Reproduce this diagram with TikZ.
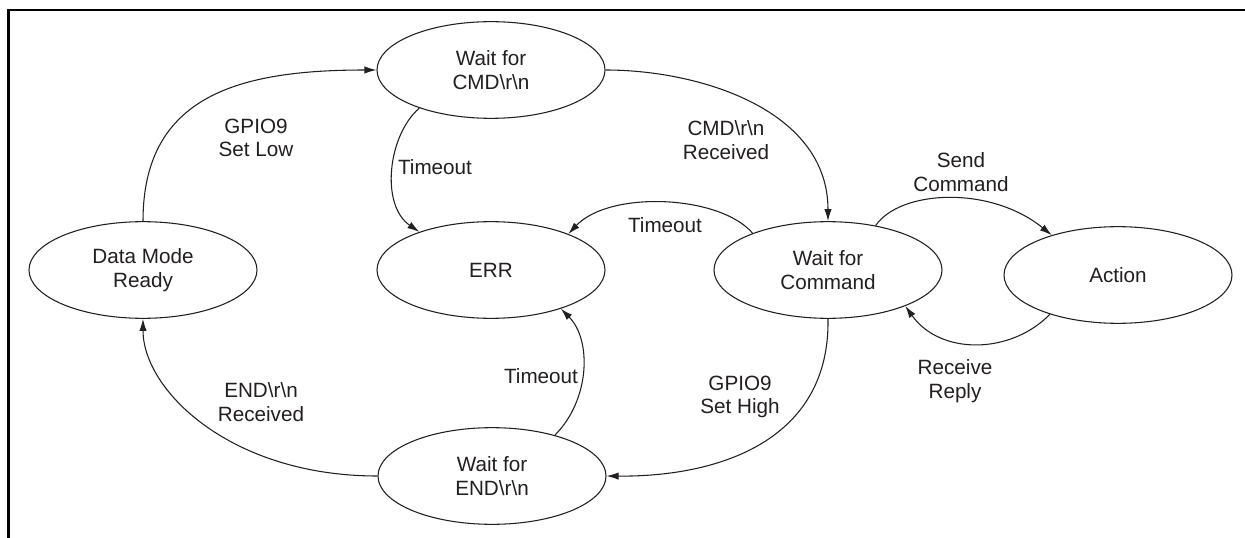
\documentclass[tikz,border=0pt]{standalone}
\usepackage{fontspec}
\setmainfont{Liberation Sans}
\usetikzlibrary{shapes.geometric,arrows.meta}
\definecolor{ink}{HTML}{231F20}
\begin{document}
\begin{tikzpicture}[x=0.75pt,y=-0.75pt,
  state/.style={ellipse,draw=ink,line width=0.8pt,minimum width=171pt,minimum height=72.5pt,inner sep=0pt,align=center,text=ink,font=\fontsize{15.5}{17.5}\selectfont},
  lbl/.style={align=center,text=ink,inner sep=0pt,font=\fontsize{15.5}{17.5}\selectfont},
  conn/.style={draw=ink,line width=0.8pt,-{Latex[length=9pt,width=5.5pt]}}]
\useasboundingbox (0,0) rectangle (1245,538);
\fill[white] (0,0) rectangle (1245,538);
\draw[line width=1.9pt,line cap=rect] (8.5,538) -- (8.5,10) -- (1245,10);

\node[state] (cmd) at (491,70) {Wait for\\CMD\textbackslash r\textbackslash n};
\node[state] (dmr) at (143,270) {Data Mode\\Ready};
\node[state] (err) at (491,270) {ERR};
\node[state] (wfc) at (828,270) {Wait for\\Command};
\node[state] (act) at (1118,275) {Action};
\node[state] (wfe) at (492,476) {Wait for\\END\textbackslash r\textbackslash n};

\draw[conn] (dmr.north) .. controls (143,95) and (240,70) .. (cmd.west);
\draw[conn] (cmd.208) .. controls (388,135) and (380,205) .. (err.152);
\draw[conn] (cmd.east) .. controls (700,70) and (828,110) .. (wfc.north);
\draw[conn] (wfc.154) .. controls (720,195) and (610,190) .. (err.25);
\draw[conn] (wfc.43) .. controls (900,190) and (990,185) .. (act.149);
\draw[conn] (act.210) .. controls (1010,355) and (940,355) .. (wfc.335);
\draw[conn] (wfc.south) .. controls (830,440) and (720,477) .. (wfe.east);
\draw[conn] (wfe.33) .. controls (590,400) and (592,340) .. (err.331);
\draw[conn] (wfe.west) .. controls (230,476) and (143,390) .. (dmr.south);

\node[lbl] (l1) at (256,138) {GPIO9\\Set Low};
\node[lbl] (l2) at (435,167) {Timeout};
\node[lbl] (l3) at (726,140) {CMD\textbackslash r\textbackslash n\\Received};
\node[lbl] (l4) at (665,225) {Timeout};
\node[lbl] (l5) at (961,172) {Send\\Command};
\node[lbl] (l6) at (955,381) {Receive\\Reply};
\node[lbl] (l7) at (740,397) {GPIO9\\Set High};
\node[lbl] (l8) at (541,376) {Timeout};
\node[lbl] (l9) at (261,402) {END\textbackslash r\textbackslash n\\Received};
\end{tikzpicture}
\end{document}
